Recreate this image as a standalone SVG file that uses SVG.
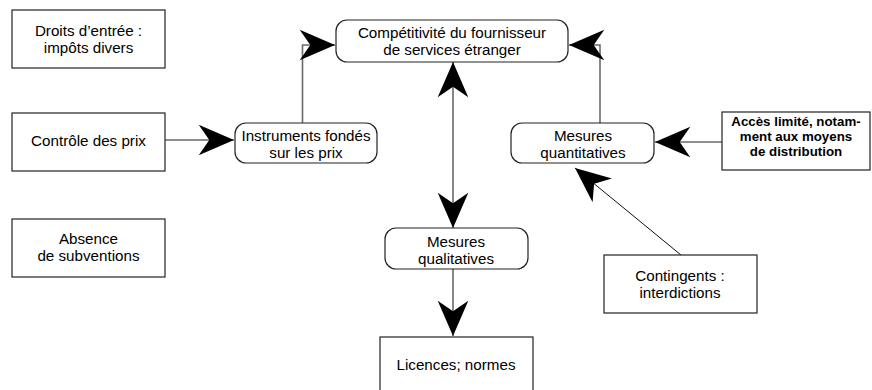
<svg xmlns="http://www.w3.org/2000/svg" width="872" height="390" viewBox="0 0 872 390">
<style>
.box{fill:#fff;stroke:#222;stroke-width:1.2}
.t{font-family:"Liberation Sans",Arial,sans-serif;font-size:15.2px;fill:#000;text-anchor:middle}
.b{font-family:"Liberation Sans",Arial,sans-serif;font-size:13.3px;font-weight:bold;fill:#000;text-anchor:middle}
.c{fill:none;stroke:#6a6a6a;stroke-width:1.6}
.d{fill:none;stroke:#111;stroke-width:1}
</style>
<defs>
<marker id="ah" markerUnits="userSpaceOnUse" markerWidth="40" markerHeight="40" viewBox="-32 -16 34 32" refX="0" refY="0" orient="auto-start-reverse" overflow="visible">
<path d="M0,0 L-30,-13 L-21,0 L-30,13 Z" fill="#000"/>
</marker>
</defs>
<rect width="872" height="390" fill="#fff"/>
<g id="connectors">
<line class="c" x1="165" y1="140" x2="234" y2="140" marker-end="url(#ah)"/>
<polyline class="c" points="302.5,123 302.5,45 335,45" marker-end="url(#ah)"/>
<polyline class="c" points="600,123 600,45 569,45" marker-end="url(#ah)"/>
<line class="c" x1="453" y1="62" x2="453" y2="228" marker-start="url(#ah)" marker-end="url(#ah)"/>
<line class="c" x1="453" y1="269" x2="453" y2="336" marker-end="url(#ah)"/>
<line class="c" x1="722" y1="142" x2="655" y2="142" marker-end="url(#ah)"/>
<line class="d" x1="681" y1="255" x2="575" y2="168" marker-end="url(#ah)"/>
</g>
<g id="droits">
<rect class="box" x="12" y="10" width="153" height="58"/>
<text class="t" x="88.5" y="36">Droits d’entrée :</text>
<text class="t" x="88.5" y="53">impôts divers</text>
</g>
<g id="controle">
<rect class="box" x="12" y="113" width="153" height="58"/>
<text class="t" x="88.5" y="146">Contrôle des prix</text>
</g>
<g id="absence">
<rect class="box" x="12" y="219" width="153" height="58"/>
<text class="t" x="88.5" y="244">Absence</text>
<text class="t" x="88.5" y="261">de subventions</text>
</g>
<g id="competitivite">
<rect class="box" x="336" y="20" width="232" height="42" rx="11"/>
<text class="t" x="452" y="38">Compétitivité du fournisseur</text>
<text class="t" x="452" y="55">de services étranger</text>
</g>
<g id="instruments">
<rect class="box" x="235" y="123" width="142" height="40" rx="11"/>
<text class="t" x="306" y="141">Instruments fondés</text>
<text class="t" x="306" y="158">sur les prix</text>
</g>
<g id="quantitatives">
<rect class="box" x="511" y="123" width="143" height="40" rx="11"/>
<text class="t" x="583" y="141">Mesures</text>
<text class="t" x="583" y="158">quantitatives</text>
</g>
<g id="acces">
<rect class="box" x="722" y="112" width="148" height="58"/>
<text class="b" x="796" y="126">Accès limité, notam-</text>
<text class="b" x="796" y="141">ment aux moyens</text>
<text class="b" x="796" y="156">de distribution</text>
</g>
<g id="qualitatives">
<rect class="box" x="385" y="228" width="143" height="41" rx="11"/>
<text class="t" x="456" y="247">Mesures</text>
<text class="t" x="456" y="264">qualitatives</text>
</g>
<g id="contingents">
<rect class="box" x="604" y="255" width="153" height="58"/>
<text class="t" x="680" y="281">Contingents :</text>
<text class="t" x="680" y="298">interdictions</text>
</g>
<g id="licences">
<rect class="box" x="380" y="337" width="153" height="60"/>
<text class="t" x="456" y="370">Licences; normes</text>
</g>
</svg>
